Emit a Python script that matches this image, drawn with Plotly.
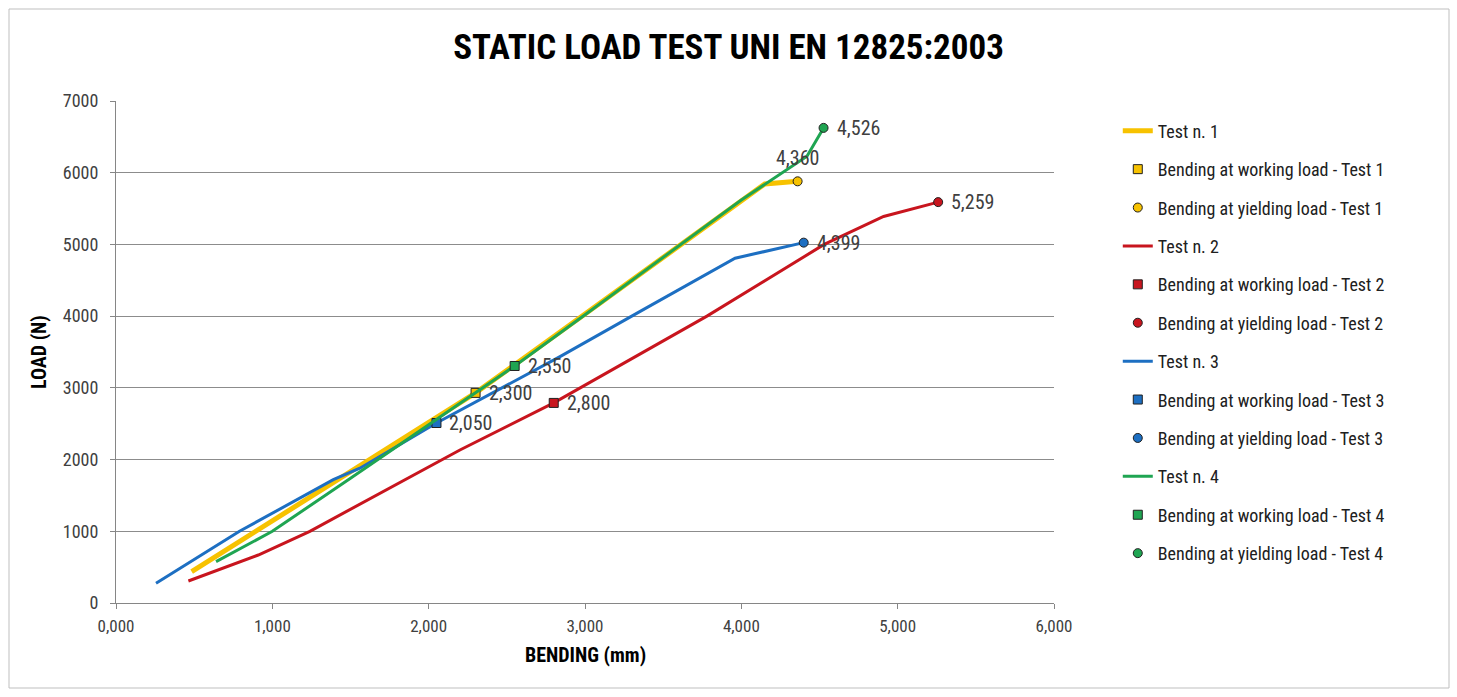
import plotly.graph_objects as go

# ---- data ----
test1_x = [0.484, 1.0, 1.5, 2.0, 2.3, 3.0, 3.61, 4.15, 4.36]
test1_y = [437, 1140, 1830, 2520, 2930, 4030, 4993, 5844, 5880]
test2_x = [0.463, 0.91, 1.24, 2.2, 2.8, 3.78, 4.53, 4.91, 5.259]
test2_y = [307, 669, 1000, 2134, 2790, 4000, 5000, 5390, 5590]
test3_x = [0.256, 0.79, 1.39, 1.56, 2.05, 2.84, 3.37, 3.96, 4.399]
test3_y = [275, 1000, 1720, 1880, 2510, 3435, 4087, 4808, 5025]
test4_x = [0.64, 1.0, 1.5, 1.86, 2.55, 3.0, 3.61, 4.0, 4.42, 4.526]
test4_y = [576, 1000, 1740, 2273, 3305, 4020, 4993, 5620, 6230, 6625]

working_x = [2.300, 2.800, 2.050, 2.550]
working_y = [2930, 2790, 2510, 3305]
yield_x = [4.360, 5.259, 4.399, 4.526]
yield_y = [5880, 5590, 5025, 6625]

test_names = ["Test n. 1", "Test n. 2", "Test n. 3", "Test n. 4"]
colors = ["#F7C200", "#C8151E", "#1D6FC2", "#1FA552"]
line_widths = [5, 3, 3, 3]

x_tickvals = [0, 1, 2, 3, 4, 5, 6]
y_tickvals = [0, 1000, 2000, 3000, 4000, 5000, 6000, 7000]

FONT = "Liberation Sans Narrow, Arial Narrow, Roboto Condensed, Liberation Sans, Arial, sans-serif"


def fmt(v):
    return f"{v:,.3f}".replace(",", "X").replace(".", ",").replace("X", ".")


lines_x = [test1_x, test2_x, test3_x, test4_x]
lines_y = [test1_y, test2_y, test3_y, test4_y]

fig = go.Figure()
for i in range(4):
    fig.add_trace(go.Scatter(
        x=lines_x[i], y=lines_y[i], mode="lines", name=test_names[i],
        line=dict(color=colors[i], width=line_widths[i]),
        legendgroup=f"g{i}a"))
    fig.add_trace(go.Scatter(
        x=[working_x[i]], y=[working_y[i]], mode="markers",
        name=f"Bending at working load - Test {i+1}",
        marker=dict(symbol="square", size=9, color=colors[i],
                    line=dict(color="#202020", width=1)),
        legendgroup=f"g{i}b"))
    fig.add_trace(go.Scatter(
        x=[yield_x[i]], y=[yield_y[i]], mode="markers",
        name=f"Bending at yielding load - Test {i+1}",
        marker=dict(symbol="circle", size=9, color=colors[i],
                    line=dict(color="#202020", width=1)),
        legendgroup=f"g{i}c"))

# data labels (value of bending next to each marker)
lab_x = working_x + yield_x
lab_y = working_y + yield_y
annotations = []
for k, (vx, vy) in enumerate(zip(lab_x, lab_y)):
    above = (k == 4)  # yielding load of Test 1 is labelled above its marker
    annotations.append(dict(
        x=vx, y=vy, xref="x", yref="y", text=fmt(vx), showarrow=False,
        xanchor="center" if above else "left", yanchor="middle",
        xshift=0 if above else 11, yshift=23 if above else 0,
        font=dict(family=FONT, size=20, color="#404040")))

# axis titles
annotations.append(dict(
    x=0.5, y=(603 - 655) / 502, xref="paper", yref="paper",
    text="<b>BENDING (mm)</b>", showarrow=False,
    xanchor="center", yanchor="middle",
    font=dict(family=FONT, size=20, color="#000000")))
annotations.append(dict(
    x=(39 - 116) / 938, y=0.5, xref="paper", yref="paper",
    text="<b>LOAD (N)</b>", showarrow=False, textangle=-90,
    xanchor="center", yanchor="middle",
    font=dict(family=FONT, size=20, color="#000000")))

fig.update_layout(
    width=1457, height=697,
    margin=dict(l=116, r=403, t=101, b=94),
    paper_bgcolor="white", plot_bgcolor="white",
    font=dict(family=FONT, size=15, color="#404040"),
    title=dict(text="<b>STATIC LOAD TEST UNI EN 12825:2003</b>",
               x=0.5, xanchor="center", y=1 - 47 / 697, yanchor="middle",
               font=dict(family=FONT, size=35, color="#000000")),
    xaxis=dict(range=[0, 6], tickvals=x_tickvals,
               ticktext=[fmt(v) for v in x_tickvals],
               showgrid=False, zeroline=False, showline=True,
               linecolor="#868686", linewidth=1, ticks="outside",
               ticklen=5, tickcolor="#868686", ticklabelstandoff=3,
               tickfont=dict(family=FONT, size=17, color="#404040")),
    yaxis=dict(range=[0, 7000], tickvals=y_tickvals,
               ticktext=[str(v) for v in y_tickvals],
               showgrid=True, gridcolor="#8C8C8C", gridwidth=1,
               zeroline=False, showline=True, linecolor="#868686",
               ticks="outside", ticklen=5, tickcolor="#868686",
               ticklabelstandoff=8,
               tickfont=dict(family=FONT, size=18, color="#404040")),
    legend=dict(x=1.068, xanchor="left", y=0.977, yanchor="top",
                traceorder="grouped", tracegroupgap=12,
                font=dict(family=FONT, size=18, color="#202020"),
                bgcolor="rgba(0,0,0,0)"),
    annotations=annotations,
    shapes=[dict(type="rect", xref="paper", yref="paper",
                 x0=(9 - 116) / 938, x1=(1449 - 116) / 938,
                 y0=(603 - 688) / 502, y1=(603 - 9) / 502,
                 line=dict(color="#BFBFBF", width=1), layer="below")],
)

fig.write_html("out.html", config={"displayModeBar": False},
               post_script="document.body.style.margin='0';")
